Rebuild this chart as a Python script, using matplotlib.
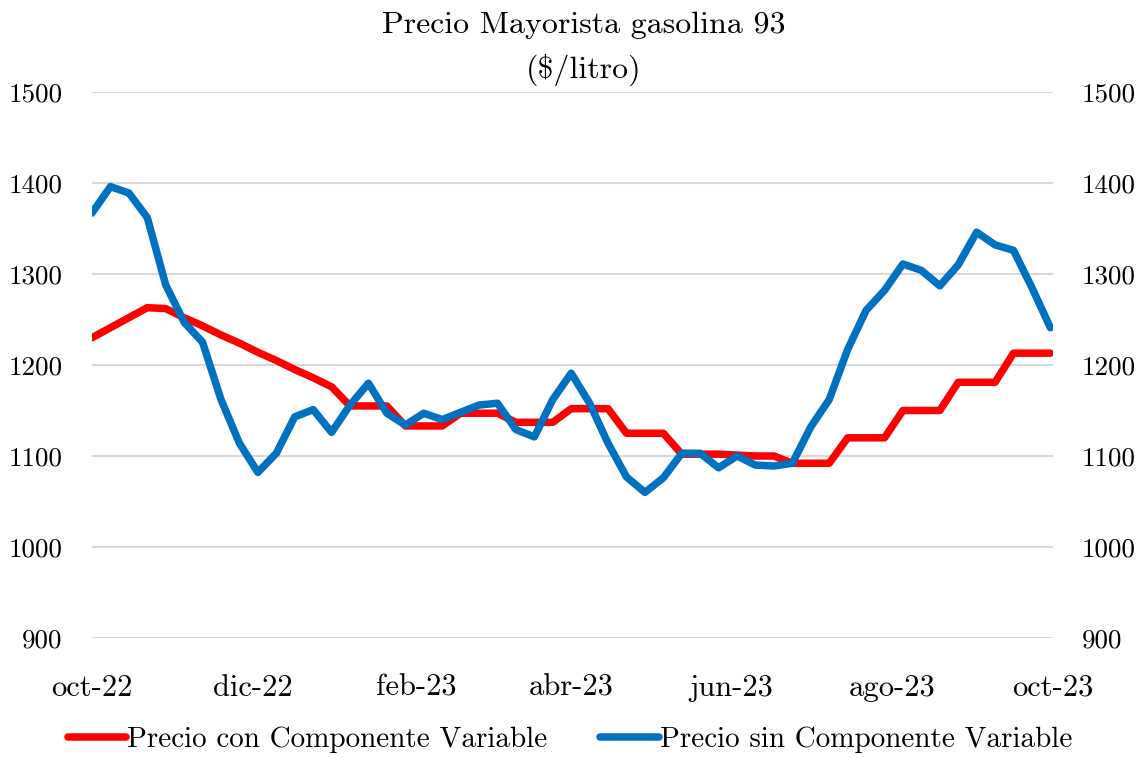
import matplotlib
matplotlib.use("Agg")
import matplotlib.pyplot as plt
import pandas as pd

plt.rcParams['font.family'] = ['cmr10', 'DejaVu Serif']
plt.rcParams['mathtext.fontset'] = 'cm'
plt.rcParams['axes.formatter.use_mathtext'] = True

dates = pd.date_range('2022-10-01', periods=53, freq='7D')

precio_con = [1230, 1241, 1252, 1263, 1262, 1252, 1243, 1233, 1224, 1214,
              1205, 1195, 1186, 1176, 1155, 1155, 1155, 1133, 1133, 1133,
              1147, 1147, 1147, 1137, 1137, 1137, 1152, 1152, 1152, 1125,
              1125, 1125, 1102, 1102, 1102, 1101, 1100, 1100, 1092, 1092,
              1092, 1120, 1120, 1120, 1150, 1150, 1150, 1181, 1181, 1181,
              1213, 1213, 1213]

precio_sin = [1367, 1396, 1389, 1362, 1288, 1247, 1225, 1162, 1114, 1082,
              1103, 1143, 1151, 1126, 1156, 1180, 1147, 1134, 1147, 1140,
              1148, 1156, 1158, 1129, 1121, 1162, 1191, 1158, 1114, 1077,
              1060, 1076, 1103, 1103, 1087, 1100, 1090, 1089, 1092, 1132,
              1162, 1217, 1260, 1282, 1311, 1304, 1287, 1310, 1346, 1332,
              1326, 1285, 1241]

tick_dates = pd.to_datetime(['2022-10-01', '2022-12-01', '2023-02-01', '2023-04-01',
                             '2023-06-01', '2023-08-01', '2023-10-01'])
tick_labels = ['oct-22', 'dic-22', 'feb-23', 'abr-23', 'jun-23', 'ago-23', 'oct-23']
y_ticks = [900, 1000, 1100, 1200, 1300, 1400, 1500]

title = 'Precio Mayorista gasolina 93'
subtitle = '(\\$/litro)'
label_con = 'Precio con Componente Variable'
label_sin = 'Precio sin Componente Variable'

W, H = 1145, 758
fig = plt.figure(figsize=(W / 100, H / 100), dpi=100)
ax = fig.add_axes([92 / W, 1 - 638 / H, (1053 - 92) / W, (638 - 92) / H])

fs_y = 19.5
fs_x = 22
fs_t = 23
fs_l = 21

ax.plot(dates, precio_con, color='#FF0000', lw=5.4, solid_joinstyle='round',
        solid_capstyle='round', label=label_con, zorder=3)
ax.plot(dates, precio_sin, color='#0070C0', lw=5.4, solid_joinstyle='round',
        solid_capstyle='round', label=label_sin, zorder=4)

ax.set_xlim(pd.Timestamp('2022-10-01'), pd.Timestamp('2023-10-01'))
ax.set_ylim(900, 1500)
ax.set_yticks(y_ticks)
ax.set_yticklabels([str(v) for v in y_ticks], fontsize=fs_y)
ax.set_xticks(tick_dates)
ax.set_xticklabels(tick_labels, fontsize=fs_x)
ax.tick_params(axis='x', length=0, pad=26)
ax.tick_params(axis='y', length=0, pad=21)
ax.grid(axis='y', color='#D9D9D9', lw=1.5, zorder=0)
ax.set_axisbelow(True)
for s in ax.spines.values():
    s.set_visible(False)

ax2 = ax.twinx()
ax2.set_ylim(900, 1500)
ax2.set_yticks(y_ticks)
ax2.set_yticklabels([str(v) for v in y_ticks], fontsize=fs_y)
ax2.tick_params(axis='y', length=0, pad=21)
for s in ax2.spines.values():
    s.set_visible(False)

fig.text(584 / W, 1 - 25 / H, title, ha='center', va='center', fontsize=fs_t)
fig.text(584 / W, 1 - 70 / H, subtitle, ha='center', va='center', fontsize=fs_t)

h, l = ax.get_legend_handles_labels()
fig.legend(h, l, loc='center', bbox_to_anchor=(570 / W, 1 - 740 / H), ncol=2,
           frameon=False, fontsize=fs_l, handlelength=2.0, handletextpad=0.05,
           columnspacing=1.8)

fig.savefig('out.png', dpi=100)
